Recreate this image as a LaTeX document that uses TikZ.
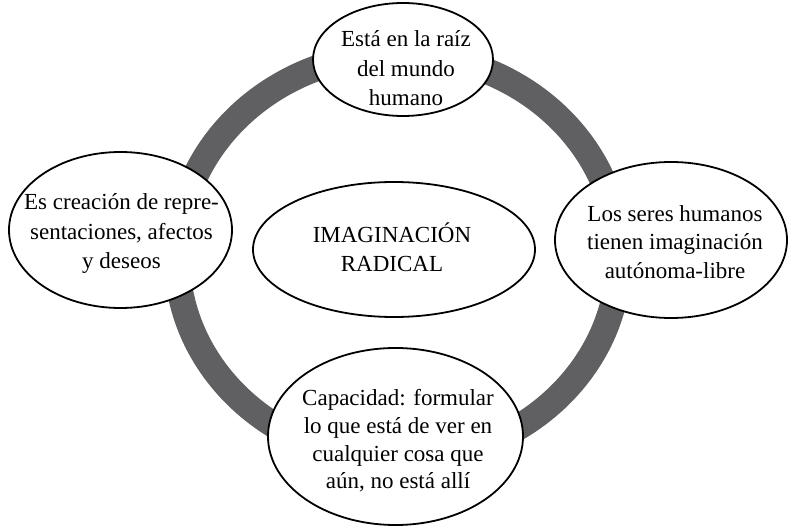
\documentclass[tikz,border=0pt]{standalone}
\usepackage{fontspec}
\setmainfont{Liberation Serif}
\usetikzlibrary{shapes.geometric}
\definecolor{ringgray}{RGB}{96,96,98}
\tikzset{
  bubble/.style={ellipse, draw=black, line width=1.8pt, fill=white, inner sep=0pt},
  btext/.style={anchor=base, font=\fontsize{23}{28}\selectfont, inner sep=0pt},
  ring/.style={draw=ringgray, line width=26pt}
}
\begin{document}
\begin{tikzpicture}[x=1pt,y=-1pt]
\useasboundingbox (0,0) rectangle (788,529);
\coordinate (c) at (398,257);
\draw[ring] (c) ellipse [x radius=221pt, y radius=203pt];

% top
\node[bubble, minimum width=180pt, minimum height=113pt] (top) at (403,59.5) {};
\node[btext] (top1) at (406,47) {Está en la raíz};
\node[btext] (top2) at (406,77) {del mundo};
\node[btext] (top3) at (406,106) {humano};

% left
\node[bubble, minimum width=223pt, minimum height=156pt] (left) at (120.5,230) {};
\node[btext] (left1) at (121.5,210) {Es creación de repre-};
\node[btext] (left2) at (121.5,240) {sentaciones, afectos};
\node[btext] (left3) at (121.5,268.3) {y deseos};

% centre
\node[bubble, minimum width=282pt, minimum height=135pt] (mid) at (394,249.5) {};
\node[btext] (mid1) at (392,243) {IMAGINACIÓN};
\node[btext] (mid2) at (392,272) {RADICAL};

% right
\node[bubble, minimum width=232pt, minimum height=156pt] (right) at (671,240) {};
\node[btext] (right1) at (675,221.7) {Los seres humanos};
\node[btext] (right2) at (675,250) {tienen imaginación};
\node[btext] (right3) at (675,278.3) {autónoma-libre};

% bottom
\node[bubble, minimum width=255pt, minimum height=177pt] (bot) at (395.5,436.5) {};
\node[btext] (bot1) at (398,406) {Capacidad: formular};
\node[btext] (bot2) at (398,433.3) {lo que está de ver en};
\node[btext] (bot3) at (398,461.7) {cualquier cosa que};
\node[btext] (bot4) at (398,488.3) {aún, no está allí};
\end{tikzpicture}
\end{document}
